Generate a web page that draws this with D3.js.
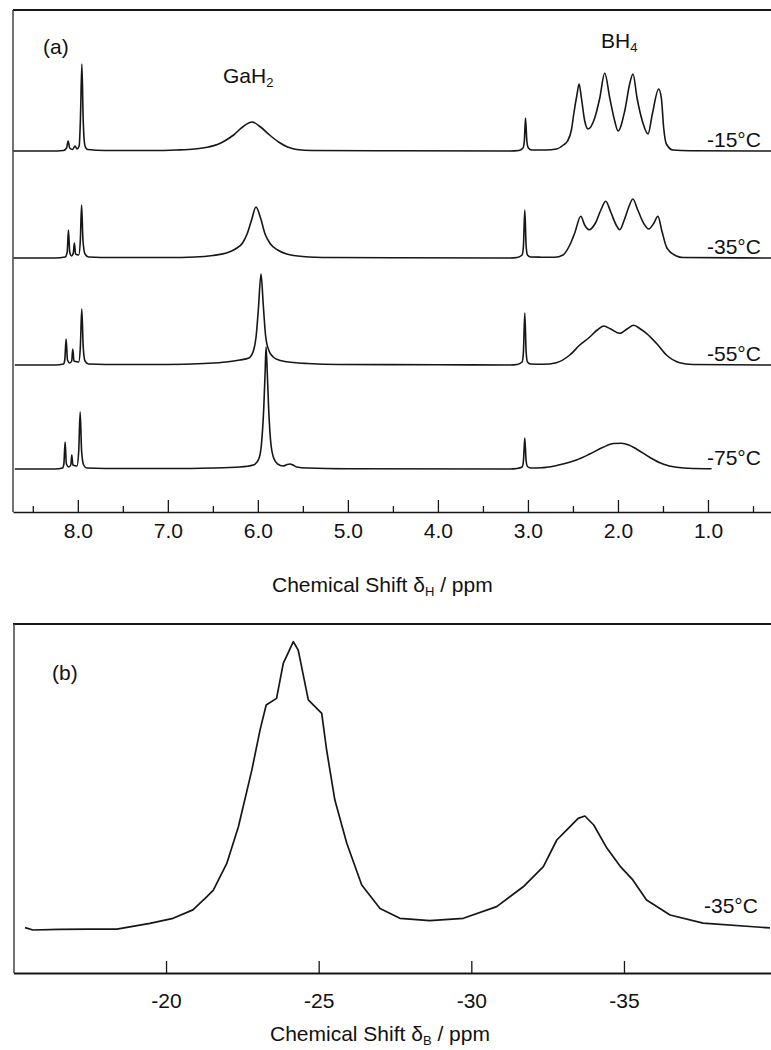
<!DOCTYPE html>
<html>
<head>
<meta charset="utf-8">
<script src="https://cdn.jsdelivr.net/npm/d3@7"></script>
<style>
  body { margin: 0; background: #fff; }
  text { font-family: "Liberation Sans", Arial, sans-serif; fill: #111; }
</style>
</head>
<body>
<svg id="chart"></svg>
<script>
// 1H spectra (a) at four temperatures, 11B spectrum (b) at -35 C
// points are [ppm, intensity]

const tempLabels = ["-15°C", "-35°C", "-55°C", "-75°C"];

const spec15 = [
  [8.72,0],[8.30,0],[8.16,0.5],[8.125,3],[8.108,10],[8.09,3],[8.06,1.5],[8.03,5],[8.01,2],
  [7.985,5],[7.97,35],[7.955,87],[7.94,30],[7.92,5],[7.89,1.5],[7.7,0.5],[7.2,0.5],
  [6.9,1],[6.7,2],[6.55,4],[6.45,6.5],[6.37,10],[6.27,16],[6.17,24],[6.065,29],[5.97,24],
  [5.87,16],[5.77,9],[5.67,4],[5.57,1.5],[5.4,0.5],[4.5,0.2],[3.2,0],
  [3.10,0.5],[3.055,3],[3.04,10],[3.027,33],[3.012,10],[2.995,3],[2.96,1],[2.8,1],
  [2.683,2],[2.607,6],[2.56,10],[2.515,22],[2.491,37],[2.454,57],[2.432,67],[2.406,53],
  [2.369,30],[2.332,22],[2.258,33],[2.202,53],[2.147,78],[2.091,53],[2.036,30],[1.999,20],
  [1.925,40],[1.870,67],[1.833,77],[1.788,53],[1.729,30],[1.666,17],[1.618,37],[1.548,62],
  [1.518,53],[1.492,23],[1.462,7],[1.388,1],[1.2,0.3],[0.30,0]
];

const spec35 = [
  [8.72,0],[8.25,0],[8.14,1],[8.118,6],[8.104,28],[8.09,6],[8.07,2],[8.05,5],[8.038,15],[8.025,4],
  [7.99,3],[7.972,18],[7.958,53],[7.943,18],[7.92,4],[7.88,1],[7.6,0.5],[7.0,0.5],
  [6.7,1],[6.5,2.5],[6.35,5],[6.25,9],[6.17,15],[6.12,24],[6.07,38],[6.021,51],[5.97,40],
  [5.92,24],[5.86,14],[5.78,8],[5.68,4],[5.5,1.5],[5.2,0.5],[4.5,0.2],[3.2,0],
  [3.12,0.5],[3.065,3],[3.05,12],[3.035,48],[3.02,12],[3.005,3],[2.97,1],[2.85,0.8],
  [2.702,0.7],[2.61,3],[2.535,13],[2.48,25],[2.413,41.7],[2.37,33],[2.321,28.3],[2.25,35],
  [2.19,48],[2.136,56.7],[2.08,46],[2.02,33],[1.981,28.3],[1.93,38],[1.88,51],[1.835,59],
  [1.78,48],[1.71,34],[1.658,29],[1.60,35],[1.556,41.7],[1.512,27],[1.456,10],[1.351,2],
  [1.278,0.5],[0.30,0]
];

const spec55 = [
  [8.70,0],[8.25,0],[8.16,1],[8.145,5],[8.130,26],[8.115,5],[8.09,2],[8.068,4],[8.056,16],[8.043,4],
  [7.99,3],[7.972,18],[7.956,56],[7.94,18],[7.92,4],[7.88,1],[7.5,0.5],[7.0,0.5],
  [6.6,1.5],[6.35,3],[6.2,5],[6.10,7],[6.05,14],[6.02,28],[5.995,55],[5.965,91],[5.94,60],
  [5.915,30],[5.88,15],[5.83,8],[5.75,4.5],[5.6,2.5],[5.45,1.5],[5.1,0.5],[4.0,0.3],[3.2,0],
  [3.12,0.5],[3.065,3],[3.05,13],[3.035,52],[3.02,13],[3.005,3],[2.97,1],
  [2.835,0.7],[2.683,2.3],[2.535,10],[2.424,20],[2.313,28],[2.23,35],[2.158,39],[2.08,36],
  [1.98,31.7],[1.90,36],[1.825,39.7],[1.75,36],[1.684,31.7],[1.573,21.7],[1.462,10],
  [1.314,2.3],[1.17,0.5],[0.30,0]
];

const spec75 = [
  [8.70,0],[8.25,0],[8.17,1],[8.155,5],[8.141,27],[8.127,5],[8.10,2],[8.078,4],[8.067,14],[8.055,4],
  [8.01,3],[7.99,18],[7.974,57],[7.958,18],[7.935,4],[7.9,1],[7.5,0.5],[7.0,0.5],
  [6.5,1],[6.2,2],[6.05,4],[5.99,10],[5.96,25],[5.935,60],[5.92,95],[5.909,122],[5.895,95],
  [5.88,60],[5.855,25],[5.82,10],[5.78,5],[5.72,3],[5.675,4.5],[5.643,5],[5.61,4],[5.57,2],
  [5.45,1],[5.0,0.3],[3.2,0],
  [3.12,0.5],[3.065,2],[3.05,8],[3.035,31],[3.02,8],[3.005,2.5],[2.97,1],[2.85,1.2],
  [2.794,1.7],[2.647,4.3],[2.461,9],[2.313,15],[2.166,21.7],[2.05,25.5],[1.962,25.7],
  [1.88,24],[1.795,20],[1.648,11.7],[1.50,5],[1.351,1.7],[1.17,0.5],[0.96,0.3]
];

const spectraA = [spec15, spec35, spec55, spec75];

const majorTicksA = [8, 7, 6, 5, 4, 3, 2, 1];
const minorTicksA = [8.5, 7.5, 6.5, 5.5, 4.5, 3.5, 2.5, 1.5, 0.5];

const specB = [
  [-15.38,0.8],[-15.64,0],[-16.5,0.2],[-17.5,0.3],[-18.39,0.3],[-19.47,2.2],[-20.23,3.9],
  [-20.88,6.7],[-21.34,11.1],[-21.55,13.3],[-21.99,22.2],[-22.37,34.4],[-22.81,53.3],
  [-23.08,66.7],[-23.28,75],[-23.62,77.2],[-23.84,88.9],[-24.17,96.1],[-24.33,93.3],
  [-24.66,76.7],[-25.10,72.2],[-25.26,60],[-25.53,43.3],[-25.92,28.9],[-26.41,15],
  [-27.01,7.2],[-27.66,3.9],[-28.64,3.1],[-29.74,3.9],[-30.83,7.8],[-31.70,14.4],
  [-32.36,21.1],[-32.80,30],[-33.12,33.3],[-33.50,37.2],[-33.72,38],[-34.01,35],
  [-34.44,27.3],[-34.87,21.3],[-35.29,16.7],[-35.74,10],[-36.51,5],[-37.59,2.3],[-39.78,0.7]
];
const ticksB = [-20, -25, -30, -35];
const tempB = "-35°C";

// layout
const W = 771, H = 1050;
const svg = d3.select("#chart").attr("width", W).attr("height", H)
  .style("background", "#fff");

const ink = "#161616";
const fontSize = 21;
const subSize = 13;

// ---------- panel (a) ----------
const aTop = 10, aBottom = 512, aLeft = 13;
const traceBase = [151, 258, 365, 469];

const xA = d3.scaleLinear().domain([8.72, 0.30]).range([aLeft, W]);
const yA = d3.scaleLinear().domain([0, 100]).range([0, -100]);

const gA = svg.append("g");

const lineA = d3.line()
  .x(d => xA(d[0]))
  .y(d => yA(d[1]))
  .curve(d3.curveMonotoneX);

spectraA.forEach((s, i) => {
  gA.append("path")
    .datum(s)
    .attr("transform", `translate(0,${traceBase[i]})`)
    .attr("fill", "none")
    .attr("stroke", ink)
    .attr("stroke-width", 1.6)
    .attr("stroke-linejoin", "round")
    .attr("d", lineA);

  gA.append("text")
    .attr("x", 707)
    .attr("y", traceBase[i] - 4)
    .attr("font-size", fontSize)
    .text(tempLabels[i]);
});

// frame
gA.append("line").attr("x1", aLeft).attr("x2", W).attr("y1", aTop).attr("y2", aTop)
  .attr("stroke", ink).attr("stroke-width", 2);
gA.append("line").attr("x1", aLeft).attr("x2", aLeft).attr("y1", aTop).attr("y2", aBottom)
  .attr("stroke", "#444").attr("stroke-width", 1.5);

const axisA = gA.append("g")
  .attr("transform", `translate(0,${aBottom})`)
  .call(d3.axisBottom(xA).tickValues(majorTicksA).tickFormat(d3.format(".1f"))
    .tickSize(-12).tickSizeOuter(0).tickPadding(11));
axisA.select(".domain").attr("stroke", ink).attr("stroke-width", 1.5);
axisA.selectAll(".tick line").attr("stroke", ink).attr("stroke-width", 1.3);
axisA.selectAll(".tick text").attr("font-size", fontSize)
  .attr("font-family", "Liberation Sans, Arial, sans-serif").attr("fill", "#111");

const minorA = gA.append("g")
  .attr("transform", `translate(0,${aBottom})`)
  .call(d3.axisBottom(xA).tickValues(minorTicksA).tickFormat("").tickSize(-6).tickSizeOuter(0));
minorA.select(".domain").remove();
minorA.selectAll(".tick line").attr("stroke", ink).attr("stroke-width", 1.3);

gA.append("text").attr("x", 43).attr("y", 54).attr("font-size", fontSize).text("(a)");

const gaLabel = gA.append("text").attr("x", 223).attr("y", 83).attr("font-size", fontSize);
gaLabel.append("tspan").text("GaH");
gaLabel.append("tspan").attr("font-size", subSize).attr("dy", 4).text("2");

const bhLabel = gA.append("text").attr("x", 601).attr("y", 48).attr("font-size", fontSize);
bhLabel.append("tspan").text("BH");
bhLabel.append("tspan").attr("font-size", subSize).attr("dy", 4).text("4");

const titleA = gA.append("text").attr("x", 272).attr("y", 592).attr("font-size", fontSize);
titleA.append("tspan").text("Chemical Shift δ");
titleA.append("tspan").attr("font-size", subSize).attr("dy", 4).text("H");
titleA.append("tspan").attr("dy", -4).text(" / ppm");

// ---------- panel (b) ----------
const bTop = 624, bBottom = 973, bLeft = 14;

const xB = d3.scaleLinear().domain([-15, -40]).range([13.4, 776.6]);
const yB = d3.scaleLinear().domain([0, 100]).range([930, 630]);

const gB = svg.append("g");

gB.append("path")
  .datum(specB)
  .attr("fill", "none")
  .attr("stroke", ink)
  .attr("stroke-width", 1.7)
  .attr("stroke-linejoin", "round")
  .attr("d", d3.line().x(d => xB(d[0])).y(d => yB(d[1])));

gB.append("line").attr("x1", bLeft - 1).attr("x2", W).attr("y1", bTop).attr("y2", bTop)
  .attr("stroke", ink).attr("stroke-width", 2);
gB.append("line").attr("x1", bLeft).attr("x2", bLeft).attr("y1", bTop).attr("y2", bBottom)
  .attr("stroke", "#444").attr("stroke-width", 1.5);

const axisB = gB.append("g")
  .attr("transform", `translate(0,${bBottom})`)
  .call(d3.axisBottom(xB).tickValues(ticksB).tickFormat(d => String(d))
    .tickSize(-12).tickSizeOuter(0).tickPadding(20));
axisB.select(".domain").attr("stroke", ink).attr("stroke-width", 1.8);
axisB.selectAll(".tick line").attr("stroke", ink).attr("stroke-width", 1.3);
axisB.selectAll(".tick text").attr("font-size", fontSize)
  .attr("font-family", "Liberation Sans, Arial, sans-serif").attr("fill", "#111");

gB.append("text").attr("x", 52).attr("y", 680).attr("font-size", fontSize).text("(b)");
gB.append("text").attr("x", 704).attr("y", 913).attr("font-size", fontSize).text(tempB);

const titleB = gB.append("text").attr("x", 270).attr("y", 1041).attr("font-size", fontSize);
titleB.append("tspan").text("Chemical Shift δ");
titleB.append("tspan").attr("font-size", subSize).attr("dy", 4).text("B");
titleB.append("tspan").attr("dy", -4).text(" / ppm");
</script>
</body>
</html>
